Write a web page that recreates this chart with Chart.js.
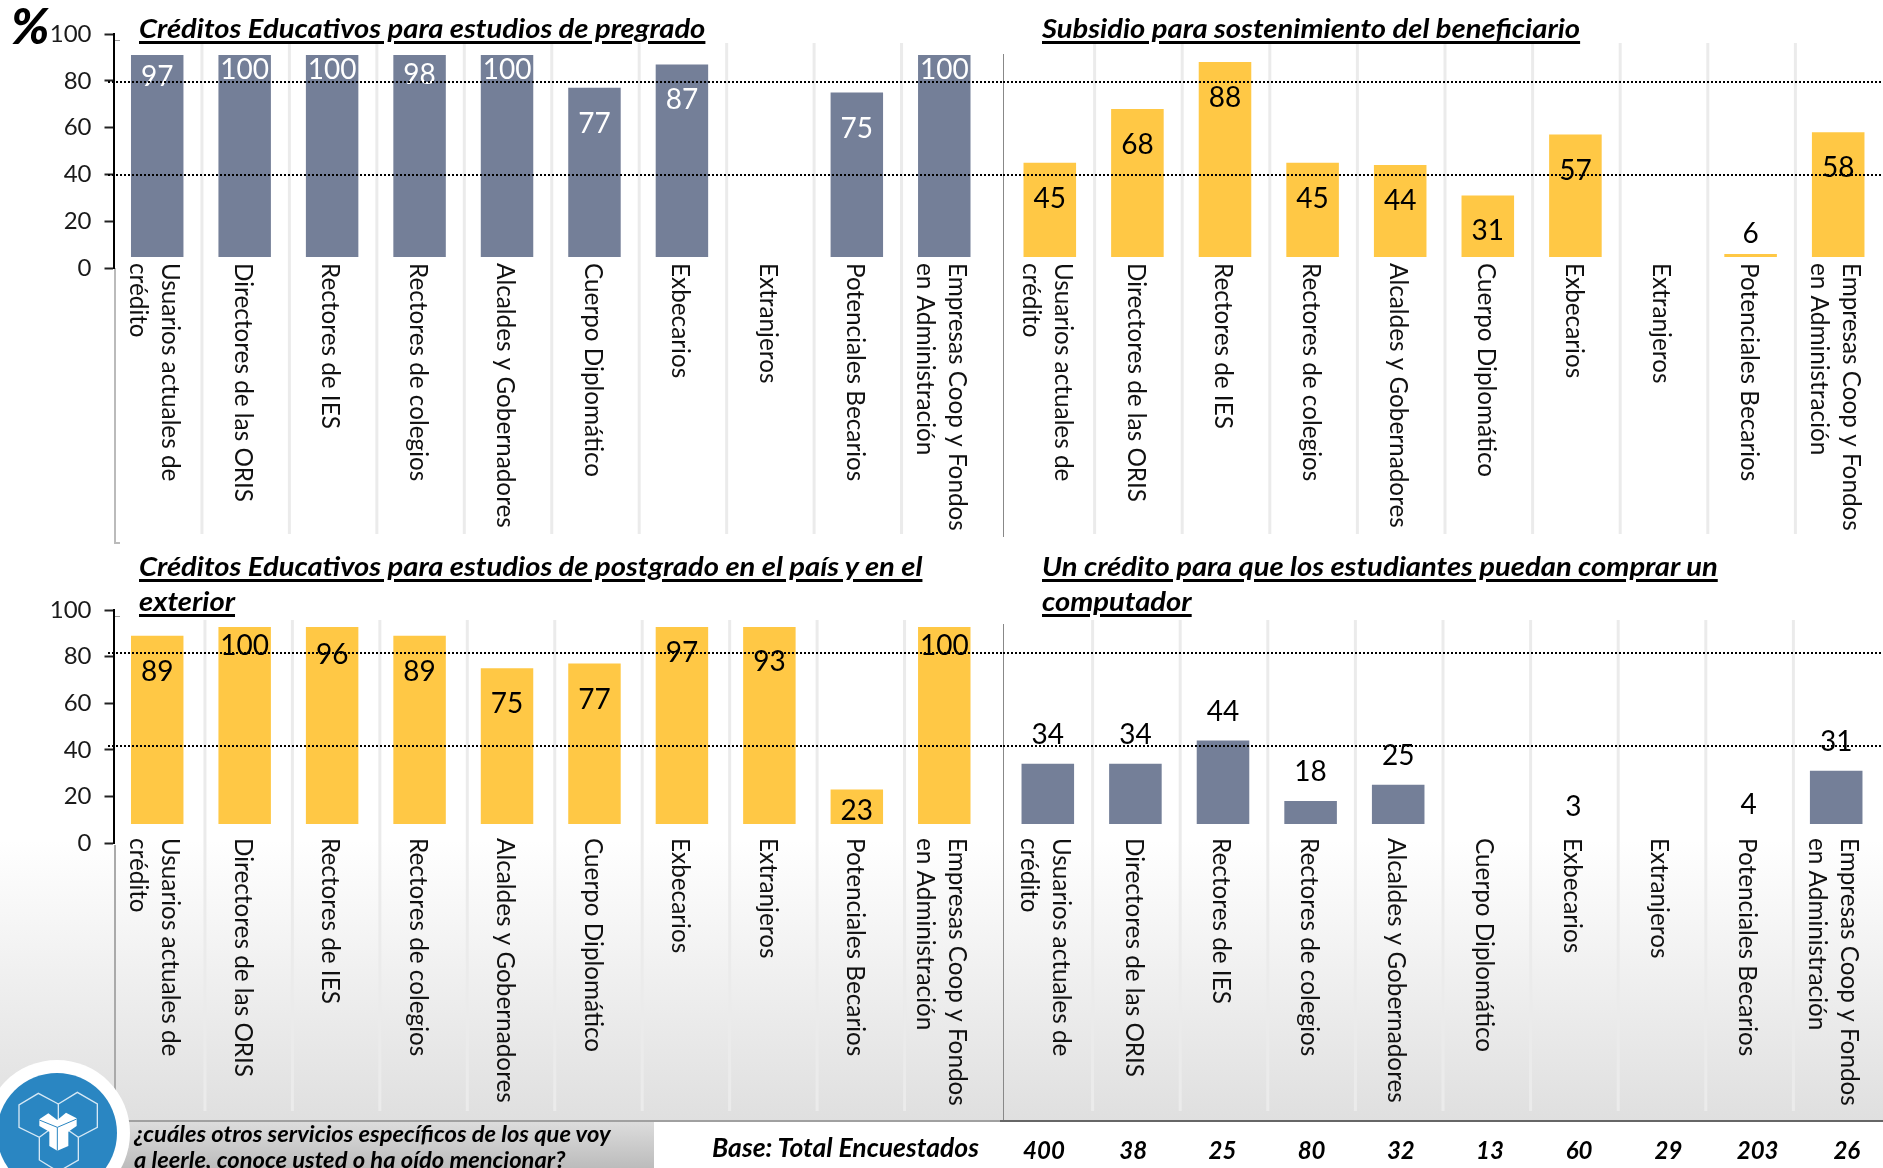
<!DOCTYPE html>
<html lang="es">
<head>
<meta charset="UTF-8">
<title>Créditos y servicios</title>
<style>
    html, body { margin: 0; padding: 0; }
    body {
        position: relative; width: 1883px; height: 1168px; overflow: hidden;
        font-family: Lato, sans-serif; color: #000;
        background: linear-gradient(#fff 0, #fff 840px, #dfdfdf 1122px, #fff 1122px);
    }
    canvas { position: absolute; }
    .title {
        position: absolute; font-weight: 700; font-style: italic; font-size: 27px; line-height: 35px; white-space: nowrap;
        text-decoration: underline; text-decoration-thickness: 3px; text-underline-offset: 3px;
        transform: scaleX(1.08); transform-origin: left top;
    }
    .rule { position: absolute; }
    #percent { position: absolute; left: 11px; top: -5px; font: italic 900 50px Lato, sans-serif; }
    #question-box { position: absolute; left: 0; top: 1122px; width: 654px; height: 46px; background: linear-gradient(#dcdcdc, #bcbcbc); }
    #question { position: absolute; left: 134px; top: 1121px; font: italic 700 22.5px/26px Lato, sans-serif; white-space: nowrap; transform: scaleX(1.055); transform-origin: left top; }
    #base-label { position: absolute; left: 712px; top: 1131px; font: italic 700 26px Lato, sans-serif; transform: scaleX(1.02); transform-origin: left top; }
    .base-n { position: absolute; top: 1135px; font: italic 700 24px Lato, sans-serif; transform: translateX(-50%); }
    #logo { position: absolute; left: 0; top: 1040px; }
</style>
</head>
<body>

<div id="question-box"></div>

<div class="rule" style="left:114px;top:268px;width:2px;height:275px;background:#bbb"></div>
<div class="rule" style="left:114px;top:542px;width:6px;height:2px;background:#bbb"></div>
<div class="rule" style="left:115px;top:40px;width:5px;height:1px;background:#999"></div>
<div class="rule" style="left:115px;top:616px;width:5px;height:1px;background:#999"></div>
<div class="rule" style="left:114px;top:845px;width:2px;height:276px;background:#aaa"></div>
<div class="rule" style="left:1003px;top:54px;width:1px;height:483px;background:#888"></div>
<div class="rule" style="left:1003px;top:624px;width:1px;height:498px;background:#888"></div>
<div class="rule" style="left:115px;top:1120px;width:885px;height:2px;background:#a0a0a0"></div>
<div class="rule" style="left:1000px;top:1120px;width:883px;height:2px;background:#666"></div>

<canvas id="chartPregrado" width="1003" height="560" style="left:0;top:0"></canvas>
<canvas id="chartSostenimiento" width="880" height="560" style="left:1003px;top:0"></canvas>
<canvas id="chartPostgrado" width="1003" height="608" style="left:0;top:560px"></canvas>
<canvas id="chartComputador" width="880" height="608" style="left:1003px;top:560px"></canvas>

<div id="percent">%</div>
<div class="title" style="left:139px;top:10px">Créditos Educativos para estudios de pregrado</div>
<div class="title" style="left:1042px;top:10px">Subsidio para sostenimiento del beneficiario</div>
<div class="title" style="left:139px;top:548px">Créditos Educativos para estudios de postgrado en el país y en el<br>exterior</div>
<div class="title" style="left:1042px;top:548px">Un crédito para que los estudiantes puedan comprar un<br>computador</div>

<svg id="logo" width="200" height="128" viewBox="0 0 600 384">
    <circle cx="171" cy="279" r="219" fill="#fff"/>
    <circle cx="171" cy="279" r="180" fill="#2a86c2"/>
    <g fill="none" stroke="#d5e8f5" stroke-width="4">
        <path d="M175 192 L115 160 L57 195 L57 262 L118 292 L175 250 L235 292 L292 262 L292 192 L232 157 Z"/>
        <path d="M175 192 L175 250"/>
        <path d="M118 292 L118 360 L175 395 L235 360 L235 292"/>
    </g>
    <path d="M118 238 L145 220 L172 240 L198 218 L230 235 L230 258 L205 275 L205 318 L172 332 L148 318 L148 275 L118 258 Z" fill="#fff"/>
    <path d="M118 240 L172 262 L230 237 M172 262 L172 332" fill="none" stroke="#2a86c2" stroke-width="3"/>
</svg>

<div id="question">¿cuáles otros servicios específicos de los que voy<br>a leerle, conoce usted o ha oído mencionar?</div>
<div id="base-label">Base: Total Encuestados</div>

<script src="https://cdn.jsdelivr.net/npm/chart.js@4"></script>
<script>
    // categorias (el segundo renglon va a la izquierda al rotar)
    const categories = [
        ['Usuarios actuales de', 'crédito'], 'Directores de las ORIS', 'Rectores de IES', 'Rectores de colegios',
        'Alcaldes y Gobernadores', 'Cuerpo Diplomático', 'Exbecarios', 'Extranjeros', 'Potenciales Becarios',
        ['Empresas Coop y Fondos', 'en Administración']
    ];

    // porcentajes
    const pregradoValues = [97, 100, 100, 98, 100, 77, 87, null, 75, 100];
    const sostenimientoValues = [45, 68, 88, 45, 44, 31, 57, null, 6, 58];
    const postgradoValues = [89, 100, 96, 89, 75, 77, 97, 93, 23, 100];
    const computadorValues = [34, 34, 44, 18, 25, null, 3, null, 4, 31];
    const baseCounts = [400, 38, 25, 80, 32, 13, 60, 29, 203, 26];

    const upperGuides = [79.6, 39.6];
    const lowerGuides = [81.7, 41.8];

    const SLATE = '#747f98';
    const YELLOW = '#ffc845';
    const GRID = '#ebebeb';

    // lineas entre categorias, mas largas que el area del grafico
    const categoryLines = {
        id: 'categoryLines',
        beforeDatasetsDraw(chart, args, opts) {
            const x = chart.scales.x, ctx = chart.ctx;
            ctx.save();
            ctx.strokeStyle = GRID;
            ctx.lineWidth = 3;
            for (let i = 0; i < categories.length - 1; i++) {
                const px = (x.getPixelForValue(i) + x.getPixelForValue(i + 1)) / 2 + opts.shift;
                ctx.beginPath();
                ctx.moveTo(px, opts.top);
                ctx.lineTo(px, opts.bottom);
                ctx.stroke();
            }
            ctx.restore();
        }
    };

    // etiquetas de valor, guias punteadas y nombres rotados
    const panelText = {
        id: 'panelText',
        afterDatasetsDraw(chart, args, opts) {
            const ctx = chart.ctx, x = chart.scales.x, y = chart.scales.y;
            const bars = chart.getDatasetMeta(0).data;
            const values = chart.data.datasets[0].data;

            ctx.save();
            ctx.textAlign = 'center';
            ctx.textBaseline = 'middle';
            ctx.font = '28px Lato';
            ctx.fillStyle = opts.labelColor;
            values.forEach((v, i) => {
                if (v === null) return;
                const inside = opts.inside && v >= 10;
                const cy = inside ? Math.min(bars[i].y + 36, opts.clipBottom - 13) : bars[i].y - opts.aboveGap;
                ctx.fillText(v, bars[i].x, cy);
            });

            ctx.strokeStyle = '#000';
            ctx.lineWidth = 2;
            ctx.setLineDash([2, 2]);
            opts.guides.forEach(g => {
                const gy = Math.round(y.getPixelForValue(g));
                ctx.beginPath();
                ctx.moveTo(opts.guideStart, gy);
                ctx.lineTo(chart.width, gy);
                ctx.stroke();
            });
            ctx.setLineDash([]);

            ctx.fillStyle = '#111';
            ctx.font = '24.3px Lato';
            ctx.textAlign = 'left';
            categories.forEach((cat, i) => {
                const lines = Array.isArray(cat) ? cat : [cat];
                lines.forEach((line, n) => {
                    let lx = x.getPixelForValue(i) - 2;
                    if (lines.length > 1) lx += n === 0 ? 15 : -17;
                    ctx.save();
                    ctx.translate(lx, y.getPixelForValue(0) - 5);
                    ctx.rotate(Math.PI / 2);
                    ctx.fillText(line, 0, 0);
                    ctx.restore();
                });
            });
            ctx.restore();
        }
    };

    function makeChart(id, values, color, p) {
        return new Chart(document.getElementById(id), {
            type: 'bar',
            data: {
                labels: categories,
                datasets: [{
                    data: values,
                    backgroundColor: color,
                    categoryPercentage: 0.6,
                    barPercentage: 1,
                    clip: { left: 0, right: 0, top: -p.clipTop, bottom: -p.clipBottom }
                }]
            },
            plugins: [categoryLines, panelText],
            options: {
                responsive: false,
                animation: false,
                devicePixelRatio: 1,
                layout: { padding: p.padding },
                scales: {
                    x: {
                        grid: { display: false },
                        border: { display: false },
                        ticks: { display: false },
                        afterFit: s => { s.height = 0; }
                    },
                    y: {
                        display: p.showAxis,
                        min: 0,
                        max: 100,
                        grid: { drawOnChartArea: false, tickLength: 9, tickColor: '#222', tickWidth: 2 },
                        border: { color: '#000', width: 2 },
                        ticks: { stepSize: 20, padding: 13, color: '#1a1a1a', font: { family: 'Lato', size: 24 } },
                        afterFit: s => { s.width = p.showAxis ? 113.5 : 0; }
                    }
                },
                plugins: {
                    legend: { display: false },
                    tooltip: { enabled: false },
                    categoryLines: { top: p.gridTop, bottom: p.gridBottom, shift: p.gridShift },
                    panelText: {
                        labelColor: p.labelColor,
                        inside: p.inside,
                        aboveGap: p.aboveGap,
                        guides: p.guides,
                        guideStart: p.guideStart,
                        clipBottom: p.plotBottom - p.clipBottom
                    }
                }
            }
        });
    }

    const upperY = { top: 34, bottom: 560 - 268 };
    const lowerY = { top: 50, bottom: 608 - 283 };

    makeChart('chartPregrado', pregradoValues, SLATE, {
        padding: { left: 0, right: 15, ...upperY }, showAxis: true, labelColor: '#fff', inside: true, aboveGap: 29,
        clipTop: 21, clipBottom: 11, plotBottom: 268, guides: upperGuides, guideStart: 108,
        gridTop: 43, gridBottom: 534, gridShift: 1
    });
    makeChart('chartSostenimiento', sostenimientoValues, YELLOW, {
        padding: { left: 3, right: 1, ...upperY }, showAxis: false, labelColor: '#000', inside: true, aboveGap: 20,
        clipTop: 0, clipBottom: 11, plotBottom: 268, guides: upperGuides, guideStart: 0,
        gridTop: 43, gridBottom: 534, gridShift: 1
    });
    makeChart('chartPostgrado', postgradoValues, YELLOW, {
        padding: { left: 0, right: 15, ...lowerY }, showAxis: true, labelColor: '#000', inside: true, aboveGap: 29,
        clipTop: 17, clipBottom: 19, plotBottom: 283, guides: lowerGuides, guideStart: 108,
        gridTop: 60, gridBottom: 551, gridShift: 4
    });
    makeChart('chartComputador', computadorValues, SLATE, {
        padding: { left: 1, right: 3, ...lowerY }, showAxis: false, labelColor: '#000', inside: false, aboveGap: 29,
        clipTop: 0, clipBottom: 19, plotBottom: 283, guides: lowerGuides, guideStart: 0,
        gridTop: 60, gridBottom: 551, gridShift: 1
    });

    // fila de bases, con su propio paso de columna
    baseCounts.forEach((n, i) => {
        const el = document.createElement('div');
        el.className = 'base-n';
        el.textContent = n;
        el.style.left = (1044 + i * 89.2) + 'px';
        document.body.appendChild(el);
    });
</script>
</body>
</html>
